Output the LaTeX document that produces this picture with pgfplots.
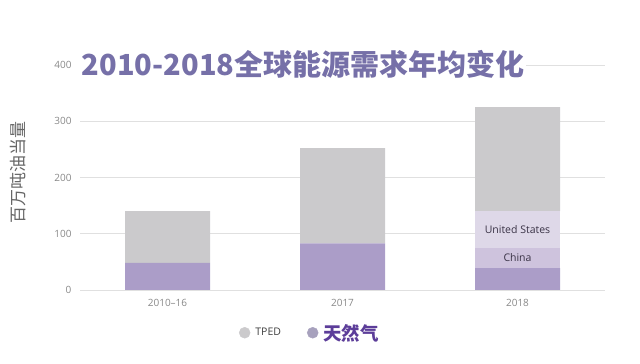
\documentclass[border=0pt]{standalone}
\usepackage{pgfplots}
\pgfplotsset{compat=1.18}
\usepackage{pgfplotstable}
\usepackage{fontspec}
\setmainfont{Open Sans}
\newfontfamily\cjk{Noto Sans CJK SC}
\definecolor{tped}{HTML}{CBCACC}
\definecolor{gas}{HTML}{AB9DC8}
\definecolor{china}{HTML}{CEC3DD}
\definecolor{us}{HTML}{DED8E8}
\definecolor{titlec}{HTML}{7670A8}
\definecolor{tickc}{HTML}{888888}
\definecolor{legpurple}{HTML}{5C3D99}
\definecolor{legdot}{HTML}{A7A1BD}
\definecolor{labc}{HTML}{3A3346}
\pgfplotstableread{
x gas china us rest
0 48 0 0 92
1 83 0 0 169
2 39 36 65 185
}\datatab
\begin{document}
\begin{tikzpicture}
\path[use as bounding box] (0,0) rectangle (640pt,364pt);
\begin{axis}[
  at={(80pt,74pt)}, anchor=south west,
  scale only axis, width=525pt, height=225pt,
  ybar stacked, bar width=85pt,
  xmin=-0.5, xmax=2.5, ymin=0, ymax=400,
  xtick={0,1,2}, xticklabels={2010--16,2017,2018},
  ytick={0,100,200,300,400},
  major tick length=0pt,
  axis line style={draw=none},
  ymajorgrids, grid style={color=black!12, line width=0.6pt},
  /pgf/number format/assume math mode=true,
  tick label style={font=\fontsize{10}{12}\selectfont, text=tickc},
  yticklabel style={xshift=-5pt},
  xticklabel style={yshift=-6pt},
  ylabel={\cjk 百万吨油当量},
  every axis y label/.style={at={(axis description cs:-0.118,0.52)}, rotate=90, anchor=center, font=\fontsize{17}{19}\selectfont, text=black!60},
  clip=false,
  legend columns=2,
  legend style={draw=none, fill=none, at={(axis description cs:0.438,-0.19)}, anchor=center,
    /tikz/every even column/.append style={column sep=24pt},
    /tikz/every odd column/.append style={column sep=3pt}},
]
\addplot[fill=gas, draw=none, forget plot] table[x=x, y=gas] {\datatab};
\addplot[fill=china, draw=none, forget plot] table[x=x, y=china] {\datatab};
\addplot[fill=us, draw=none, forget plot] table[x=x, y=us] {\datatab};
\addplot[fill=tped, draw=none, forget plot] table[x=x, y=rest] {\datatab};
\addlegendimage{legend image code/.code={\fill[tped] (0pt,0pt) circle (5.5pt);}}
\addlegendentry{\fontsize{10.5}{12}\selectfont\color{black!75}TPED}
\addlegendimage{legend image code/.code={\fill[legdot] (0pt,0pt) circle (5.5pt);}}
\addlegendentry{\cjk\bfseries\fontsize{18.5}{20}\selectfont\color{legpurple}天然气}
\coordinate (uslab) at (axis cs:2,107);
\coordinate (cnlab) at (axis cs:2,57);
\coordinate (ttl) at (axis description cs:0.425,1.004);
\end{axis}
\node[font=\fontsize{10.5}{12}\selectfont, text=labc] at (uslab) {United States};
\node[font=\fontsize{10.5}{12}\selectfont, text=labc] at (cnlab) {China};
\node[fill=white, inner sep=2pt, font=\cjk\bfseries\fontsize{29}{32}\selectfont, text=titlec] at (ttl) {2010-2018全球能源需求年均变化};
\end{tikzpicture}
\end{document}
